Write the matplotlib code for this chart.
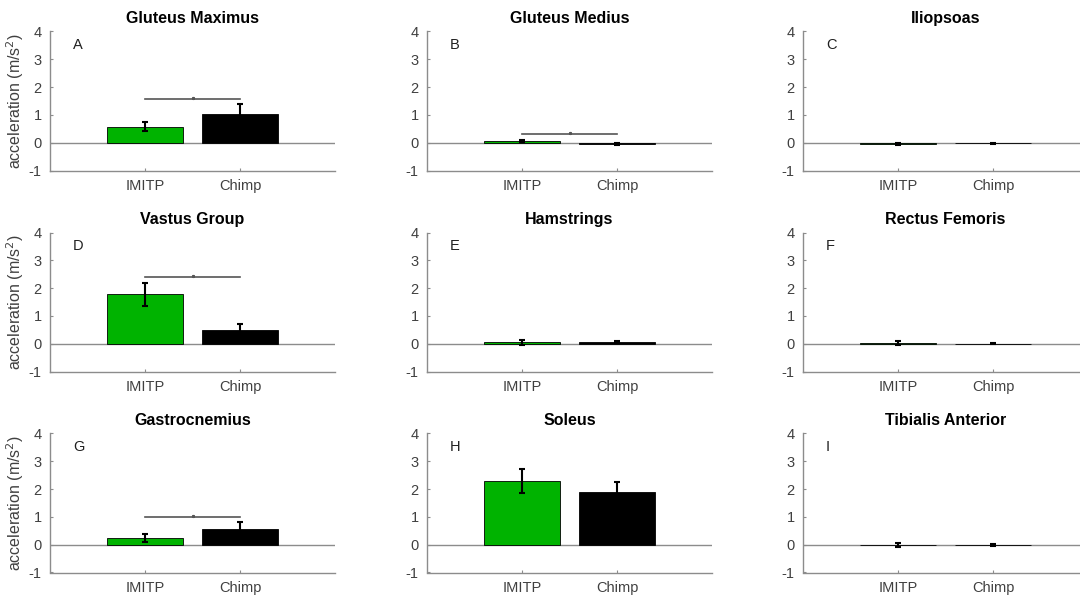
import matplotlib
matplotlib.use("Agg")
import matplotlib.pyplot as plt

plt.rcParams['font.family'] = ['Liberation Sans', 'DejaVu Sans']
plt.rcParams['axes.unicode_minus'] = False

muscles = ['Gluteus Maximus', 'Gluteus Medius', 'Iliopsoas',
           'Vastus Group', 'Hamstrings', 'Rectus Femoris',
           'Gastrocnemius', 'Soleus', 'Tibialis Anterior']
letters = ['A', 'B', 'C', 'D', 'E', 'F', 'G', 'H', 'I']
groups = ['IMITP', 'Chimp']

imitp_mean = [0.58, 0.07, -0.04, 1.77, 0.05, 0.04, 0.25, 2.30, -0.01]
imitp_err = [0.17, 0.03, 0.04, 0.40, 0.08, 0.07, 0.15, 0.43, 0.07]
chimp_mean = [1.04, -0.05, -0.02, 0.50, 0.05, 0.00, 0.56, 1.91, -0.01]
chimp_err = [0.36, 0.03, 0.01, 0.21, 0.03, 0.02, 0.25, 0.35, 0.02]
# height of the significance bracket (None = not significant)
sig_height = [1.57, 0.31, None, 2.39, None, None, 1.01, None, None]

green = (0, 0.7, 0)
axis_grey = '#8c8c8c'
text_grey = '#404040'

fig = plt.figure(figsize=(10.8, 5.96), dpi=100)

lefts = [50, 427, 803]
bottoms = [170.5, 371.5, 572.5]
w_px, h_px = 285, 139

for i, name in enumerate(muscles):
    row, col = divmod(i, 3)
    ax = fig.add_axes([lefts[col] / 1080, 1 - bottoms[row] / 596,
                       w_px / 1080, h_px / 596])

    x = [1, 2]
    means = [imitp_mean[i], chimp_mean[i]]
    errs = [imitp_err[i], chimp_err[i]]

    ax.axhline(0, color=axis_grey, lw=1.0, zorder=1)
    ax.bar(x, means, width=0.8, color=[green, 'black'],
           edgecolor='black', linewidth=0.6, zorder=2)
    ax.errorbar(x, means, yerr=errs, fmt='none', ecolor='black',
                elinewidth=1.5, capsize=2.5, capthick=1.5, zorder=3)

    if sig_height[i] is not None:
        ax.plot([1, 2], [sig_height[i]] * 2, color='#555555', lw=1.2, zorder=3)
        ax.plot([1.5], [sig_height[i] + 0.04], marker='*', ms=2,
                color='#555555', zorder=3)

    ax.set_xlim(0, 3)
    ax.set_ylim(-1, 4)
    ax.set_xticks(x)
    ax.set_xticklabels(groups)
    ax.set_yticks(range(-1, 5))
    ax.tick_params(direction='in', length=2.5, width=0.8, color=axis_grey,
                   labelcolor=text_grey, labelsize=10.5, pad=6)

    for side in ['top', 'right']:
        ax.spines[side].set_visible(False)
    for side in ['left', 'bottom']:
        ax.spines[side].set_color(axis_grey)
        ax.spines[side].set_linewidth(1.0)

    ax.set_title(name, fontsize=11.5, fontweight='bold', color='black', pad=6)
    ax.text(0.24, 3.5, letters[i], fontsize=10.5, color='#202020',
            ha='left', va='center')

    if col == 0:
        ax.set_ylabel('acceleration (m/s$^2$)', fontsize=11.5,
                      color=text_grey, labelpad=2)

fig.savefig('out.png', dpi=100)
